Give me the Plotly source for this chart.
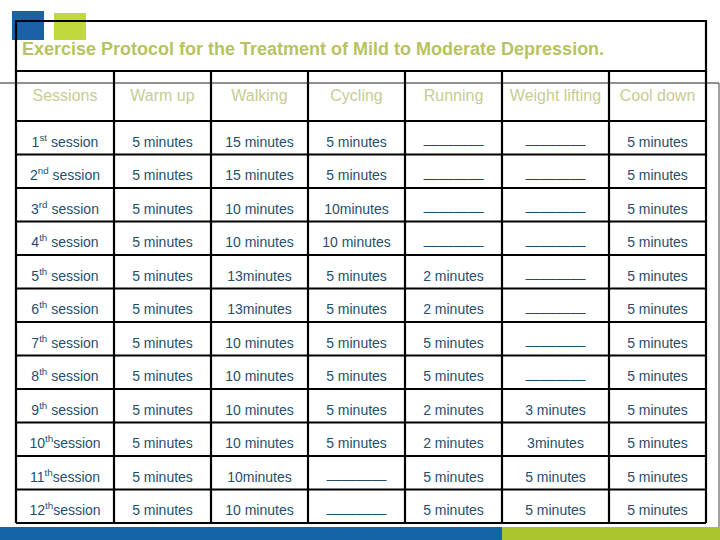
import plotly.graph_objects as go

# ---- data ----
title = "Exercise Protocol for the Treatment of Mild to Moderate Depression."
headers = ["Sessions", "Warm up", "Walking", "Cycling", "Running", "Weight lifting", "Cool down"]
DASH = "\u2014" * 4
sessions = ["1<sup>st</sup> session", "2<sup>nd</sup> session", "3<sup>rd</sup> session",
            "4<sup>th</sup> session", "5<sup>th</sup> session", "6<sup>th</sup> session",
            "7<sup>th</sup> session", "8<sup>th</sup> session", "9<sup>th</sup> session",
            "10<sup>th</sup>session", "11<sup>th</sup>session", "12<sup>th</sup>session"]
warm_up = ["5 minutes"] * 12
walking = ["15 minutes", "15 minutes", "10 minutes", "10 minutes", "13minutes", "13minutes",
           "10 minutes", "10 minutes", "10 minutes", "10 minutes", "10minutes", "10 minutes"]
cycling = ["5 minutes", "5 minutes", "10minutes", "10 minutes", "5 minutes", "5 minutes",
           "5 minutes", "5 minutes", "5 minutes", "5 minutes", DASH, DASH]
running = [DASH, DASH, DASH, DASH, "2 minutes", "2 minutes", "5 minutes", "5 minutes",
           "2 minutes", "2 minutes", "5 minutes", "5 minutes"]
weight_lifting = [DASH] * 8 + ["3 minutes", "3minutes", "5 minutes", "5 minutes"]
cool_down = ["5 minutes"] * 12
columns = [sessions, warm_up, walking, cycling, running, weight_lifting, cool_down]

# ---- layout geometry (pixels) ----
col_edges = [16, 114, 211, 308, 405, 502, 609, 706]
top, title_bottom, header_bottom, table_bottom = 21, 71, 121, 523
n_rows = len(sessions)
row_h = (table_bottom - header_bottom) / n_rows

FONT = "Liberation Sans, Arial, sans-serif"
BODY = "#1f4f6e"
HEAD = "#c9cb94"
TITLE = "#b7c360"

fig = go.Figure()

# header text
hx = [(col_edges[i] + col_edges[i + 1]) / 2 for i in range(len(headers))]
fig.add_trace(go.Scatter(x=hx, y=[97] * len(headers), text=headers, mode="text",
                         textfont=dict(family=FONT, size=16, color=HEAD),
                         hoverinfo="skip", showlegend=False))

# body text (words) and dash placeholders
tx, ty, tt = [], [], []
dx, dy, dt = [], [], []
for c, col in enumerate(columns):
    cx = (col_edges[c] + col_edges[c + 1]) / 2
    for r, val in enumerate(col):
        yc = header_bottom + row_h * r + 22
        if val == DASH:
            dx.append(cx); dy.append(yc + 2.5); dt.append(val)
        else:
            tx.append(cx); ty.append(yc); tt.append(val)
fig.add_trace(go.Scatter(x=tx, y=ty, text=tt, mode="text",
                         textfont=dict(family=FONT, size=14, color=BODY),
                         hoverinfo="skip", showlegend=False))
fig.add_trace(go.Scatter(x=dx, y=dy, text=dt, mode="text",
                         textfont=dict(family=FONT, size=15, color=BODY),
                         hoverinfo="skip", showlegend=False))

shapes = []
LW = 2.2
# title box
shapes.append(dict(type="rect", x0=col_edges[0], x1=col_edges[-1], y0=top, y1=title_bottom,
                   line=dict(color="black", width=LW)))
# table grid
ys = [header_bottom + row_h * r for r in range(n_rows + 1)]
for y in [title_bottom] + ys:
    shapes.append(dict(type="line", x0=col_edges[0], x1=col_edges[-1], y0=y, y1=y,
                       line=dict(color="black", width=LW)))
for x in col_edges:
    shapes.append(dict(type="line", x0=x, x1=x, y0=title_bottom, y1=table_bottom,
                       line=dict(color="black", width=LW)))
# thin slide lines
shapes.append(dict(type="line", x0=0, x1=719, y0=83, y1=83, line=dict(color="#222", width=1)))
shapes.append(dict(type="line", x0=719, x1=719, y0=83, y1=527, line=dict(color="#444", width=1)))
# logo squares
shapes.append(dict(type="rect", x0=12, x1=44, y0=11, y1=40, fillcolor="#1c60a8",
                   line=dict(width=0), layer="below"))
shapes.append(dict(type="rect", x0=54, x1=86, y0=13, y1=40, fillcolor="#c3d83c",
                   line=dict(width=0), layer="below"))
# bottom band
shapes.append(dict(type="rect", x0=0, x1=502, y0=527, y1=540, fillcolor="#1464a8",
                   line=dict(width=0)))
shapes.append(dict(type="rect", x0=502, x1=720, y0=527, y1=540, fillcolor="#a9c62e",
                   line=dict(width=0)))

fig.update_layout(
    width=720, height=540, margin=dict(l=0, r=0, t=0, b=0),
    paper_bgcolor="white", plot_bgcolor="white",
    xaxis=dict(range=[0, 720], visible=False, fixedrange=True),
    yaxis=dict(range=[540, 0], visible=False, fixedrange=True),
    shapes=shapes,
    annotations=[dict(text="<b>" + title + "</b>", x=20, y=49, xref="x", yref="y",
                      xanchor="left", yanchor="middle", showarrow=False,
                      font=dict(family=FONT, size=18, color=TITLE))],
)
fig.write_html("out.html", config={"displayModeBar": False},
               post_script="document.body.style.margin='0';")
